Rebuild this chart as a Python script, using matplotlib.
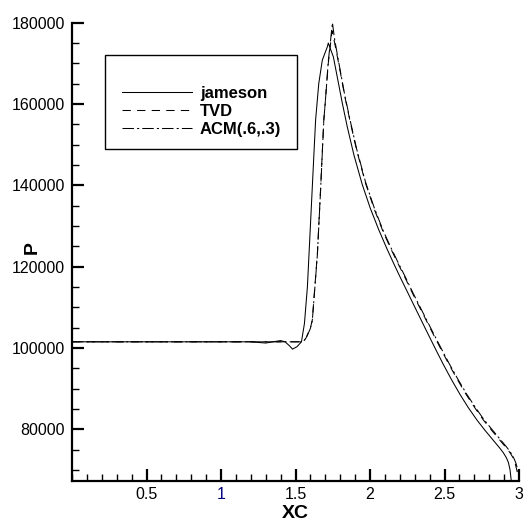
import numpy as np
import matplotlib
matplotlib.use("Agg")
import matplotlib.pyplot as plt
from matplotlib.patches import Rectangle
from matplotlib.ticker import MultipleLocator

plt.rcParams['font.family'] = ['Liberation Sans', 'DejaVu Sans']

# jameson (solid)
jam_x = [0.0, 1.2, 1.3, 1.35, 1.4, 1.43, 1.46, 1.48, 1.51, 1.54, 1.56, 1.58, 1.602,
         1.624, 1.635, 1.656, 1.68, 1.714, 1.72, 1.754, 1.78, 1.814, 1.848, 1.892,
         1.948, 2.003, 2.06, 2.115, 2.16, 2.204, 2.26, 2.316, 2.383, 2.44, 2.494,
         2.55, 2.605, 2.66, 2.717, 2.77, 2.829, 2.87, 2.895, 2.915, 2.929, 2.94, 2.948]
jam_y = [101500, 101500, 101200, 101500, 101800, 101500, 100500, 99700, 100300,
         101500, 106000, 115100, 131500, 148000, 156100, 165000, 170800, 174100,
         175000, 171600, 166700, 160240, 154290, 147470, 140190, 134250, 128950,
         124280, 120680, 117290, 113100, 108900, 103900, 99700, 95800, 92000, 88500,
         85300, 82300, 79800, 77200, 75400, 74200, 73000, 71800, 70000, 67300]

# TVD (dashed)
tvd_x = [0.0, 1.55, 1.57, 1.60, 1.613, 1.647, 1.669, 1.69, 1.70, 1.72, 1.745, 1.76,
         1.78, 1.80, 1.83, 1.866, 1.91, 1.97, 2.03, 2.09, 2.145, 2.19, 2.235, 2.29,
         2.348, 2.417, 2.476, 2.532, 2.59, 2.646, 2.703, 2.76, 2.815, 2.874, 2.915,
         2.94, 2.96, 2.975, 2.985, 2.995]
tvd_y = [101500, 101500, 102400, 104900, 106900, 123300, 139600, 156100, 160500,
         170000, 178000, 175500, 171800, 168000, 162000, 155800, 148700, 140500,
         134000, 128400, 124000, 120600, 117300, 113100, 108900, 103900, 99700,
         95800, 92000, 88500, 85300, 82300, 79800, 77200, 75400, 74200, 73000,
         71500, 70000, 68300]

# ACM(.6,.3) (dash-dot)
acm_x = [0.0, 1.55, 1.57, 1.60, 1.613, 1.647, 1.669, 1.69, 1.70, 1.72, 1.748, 1.76,
         1.78, 1.80, 1.83, 1.866, 1.91, 1.97, 2.03, 2.09, 2.145, 2.19, 2.235, 2.29,
         2.348, 2.417, 2.476, 2.532, 2.59, 2.646, 2.703, 2.76, 2.815, 2.874, 2.915,
         2.94, 2.96, 2.978, 2.99, 3.0]
acm_y = [101500, 101500, 102300, 104800, 106800, 123000, 139300, 156000, 160500,
         170500, 180000, 176500, 172300, 168300, 162300, 156100, 149000, 140800,
         134300, 128700, 124300, 120900, 117600, 113400, 109200, 104200, 100000,
         96100, 92300, 88800, 85600, 82600, 80100, 77500, 75700, 74500, 73300,
         71800, 70300, 68800]

x_ticks = [0.5, 1, 1.5, 2, 2.5, 3]
x_labels = ['0.5', '1', '1.5', '2', '2.5', '3']
y_ticks = [80000, 100000, 120000, 140000, 160000, 180000]

fig = plt.figure(figsize=(5.3, 5.3), dpi=100)
ax = fig.add_axes([72 / 530, 1 - 481 / 530, 447 / 530, 458.3 / 530])

lw = 0.75
ax.plot(jam_x, jam_y, color='black', lw=lw, label='jameson')
ax.plot(tvd_x, tvd_y, color='black', lw=lw, ls=(0, (8, 6)), label='TVD')
ax.plot(acm_x, acm_y, color='black', lw=lw, ls=(0, (11, 3, 2, 3)), label='ACM(.6,.3)')

ax.set_xlim(0, 3)
ax.set_ylim(67260, 180000)

for s in ['top', 'right']:
    ax.spines[s].set_visible(False)
for s in ['left', 'bottom']:
    ax.spines[s].set_linewidth(1.6)

ax.set_xticks(x_ticks)
ax.set_xticklabels(x_labels)
ax.set_yticks(y_ticks)
ax.xaxis.set_minor_locator(MultipleLocator(0.1))
ax.yaxis.set_minor_locator(MultipleLocator(5000))
ax.tick_params(which='major', direction='in', length=8.5, width=1.6, labelsize=11.5, pad=4)
ax.tick_params(which='minor', direction='in', length=4.8, width=1.0)
ax.tick_params(axis='y', which='major', pad=5)
ax.get_xticklabels()[1].set_color('#000080')

ax.set_xlabel('XC', fontsize=14, fontweight='bold')
ax.set_ylabel('P', fontsize=14, fontweight='bold')
ax.xaxis.set_label_coords(0.5, -0.052)
ax.yaxis.set_label_coords(-0.07, 0.51)

# legend frame and entries
fig.patches.append(Rectangle((105 / 530, 1 - 149 / 530), 192 / 530, 94 / 530,
                             transform=fig.transFigure, fill=False,
                             edgecolor='black', lw=1.0))
ax.legend(loc='center left', bbox_to_anchor=(121.7 / 530, 1 - 111.7 / 530),
          bbox_transform=fig.transFigure, frameon=False, borderpad=0,
          borderaxespad=0, handlelength=4.2, handletextpad=0.48,
          labelspacing=0.18, prop={'weight': 'bold', 'size': 12})

fig.savefig('out.png', dpi=100)
